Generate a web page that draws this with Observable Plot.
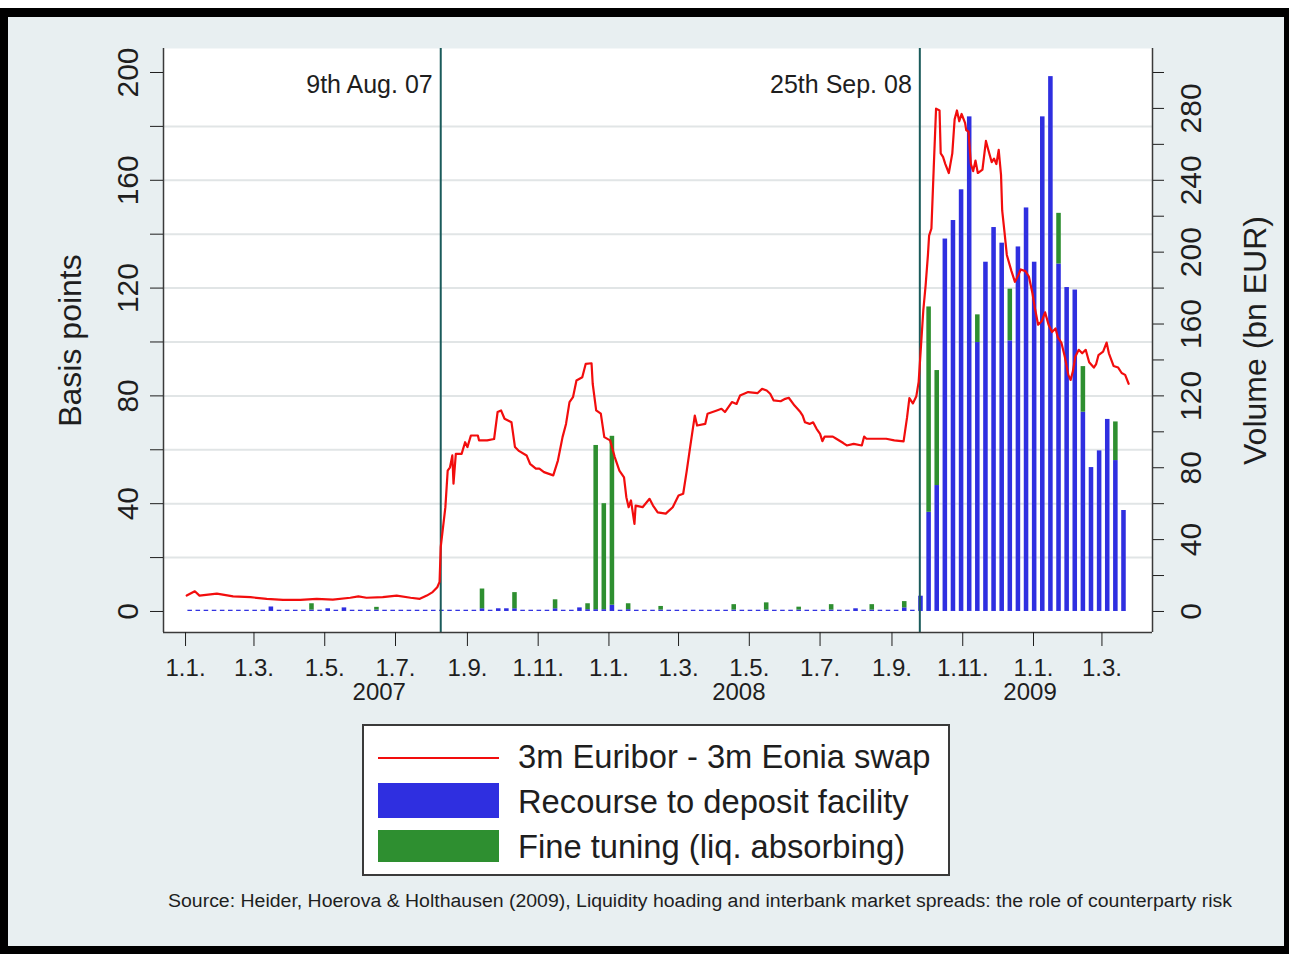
<!DOCTYPE html>
<html>
<head>
<meta charset="utf-8">
<script src="https://cdn.jsdelivr.net/npm/d3@7"></script>
<script src="https://cdn.jsdelivr.net/npm/@observablehq/plot@0.6"></script>
<style>
  body { margin: 0; background: #fff; }
  #page { position: relative; width: 1289px; height: 954px; overflow: hidden; background: #fff;
          font-family: Arial, "Liberation Sans", Helvetica, sans-serif; color: #1e1e1e; }
  #outer { position: absolute; left: 0; top: 8px; width: 1289px; height: 946px; background: #000; }
  #inner { position: absolute; left: 8px; top: 17px; width: 1276px; height: 929px; background: #e8eff1; }
  #chart { position: absolute; left: 0; top: 0; }
  #legend { position: absolute; left: 362px; top: 724px; width: 588px; height: 152px; background: #fff;
            border: 2px solid #3a3a3a; box-sizing: border-box; }
  .sw { position: absolute; left: 14px; width: 121px; }
  .lt { position: absolute; left: 154px; font-size: 32.7px; line-height: 36px; white-space: nowrap; color: #1e1e1e; }
  #source { position: absolute; left: 0; top: 880px; }
</style>
</head>
<body>
<div id="page">
  <div id="outer"></div>
  <div id="inner"></div>
  <div id="chart"></div>
  <div id="legend"></div>
  <svg id="source" width="1289" height="40"></svg>
</div>
<script>
// ---------------- data ----------------
// 3m Euribor - 3m Eonia swap spread (basis points)
const spreadDates = [
  "2007-01-02","2007-01-09","2007-01-13","2007-01-28","2007-02-11","2007-02-26","2007-03-12","2007-03-26",
  "2007-04-10","2007-04-24","2007-05-08","2007-05-23","2007-05-30","2007-06-06","2007-06-20","2007-07-02",
  "2007-07-14","2007-07-22","2007-07-28","2007-08-02","2007-08-06","2007-08-08","2007-08-09","2007-08-13",
  "2007-08-15","2007-08-17","2007-08-19","2007-08-20","2007-08-22","2007-08-27","2007-08-30","2007-09-01",
  "2007-09-04","2007-09-10","2007-09-11","2007-09-18","2007-09-24","2007-09-27","2007-09-30","2007-10-03",
  "2007-10-09","2007-10-12","2007-10-15","2007-10-22","2007-10-25","2007-10-30","2007-11-02","2007-11-06",
  "2007-11-14","2007-11-18","2007-11-22","2007-11-25","2007-11-28","2007-12-01","2007-12-04","2007-12-09",
  "2007-12-12","2007-12-17","2007-12-18","2007-12-21","2007-12-25","2007-12-28","2008-01-02","2008-01-06",
  "2008-01-10","2008-01-14","2008-01-16","2008-01-18","2008-01-20","2008-01-23","2008-01-24","2008-01-30",
  "2008-02-05","2008-02-08","2008-02-12","2008-02-19","2008-02-25","2008-03-01","2008-03-05","2008-03-08",
  "2008-03-11","2008-03-15","2008-03-17","2008-03-24","2008-03-26","2008-04-03","2008-04-07","2008-04-10",
  "2008-04-16","2008-04-20","2008-04-23","2008-04-30","2008-05-08","2008-05-12","2008-05-16","2008-05-19",
  "2008-05-22","2008-05-28","2008-06-01","2008-06-04","2008-06-09","2008-06-14","2008-06-16","2008-06-18",
  "2008-06-22","2008-06-25","2008-06-28","2008-07-01","2008-07-03","2008-07-05","2008-07-12","2008-07-15",
  "2008-07-21","2008-07-24","2008-07-30","2008-08-06","2008-08-08","2008-08-10","2008-08-27","2008-09-03",
  "2008-09-11","2008-09-14","2008-09-16","2008-09-19","2008-09-22","2008-09-24","2008-09-26","2008-09-28",
  "2008-09-30","2008-10-02","2008-10-03","2008-10-05","2008-10-07","2008-10-09","2008-10-12","2008-10-13",
  "2008-10-15","2008-10-17","2008-10-20","2008-10-23","2008-10-25","2008-10-27","2008-10-29","2008-10-31",
  "2008-11-03","2008-11-04","2008-11-06","2008-11-08","2008-11-10","2008-11-12","2008-11-14","2008-11-18",
  "2008-11-21","2008-11-23","2008-11-26","2008-11-28","2008-11-30","2008-12-02","2008-12-04","2008-12-05",
  "2008-12-07","2008-12-09","2008-12-13","2008-12-16","2008-12-19","2008-12-21","2008-12-25","2008-12-28",
  "2008-12-31","2009-01-02","2009-01-05","2009-01-08","2009-01-11","2009-01-14","2009-01-17","2009-01-20",
  "2009-01-22","2009-01-25","2009-01-28","2009-01-31","2009-02-02","2009-02-04","2009-02-06","2009-02-09",
  "2009-02-12","2009-02-15","2009-02-18","2009-02-22","2009-02-24","2009-02-26","2009-03-02","2009-03-05",
  "2009-03-07","2009-03-11","2009-03-15","2009-03-18","2009-03-21","2009-03-24"
];
const spreadValues = [
  5.9,7.5,5.9,6.6,5.6,5.3,4.7,4.3,
  4.3,4.7,4.4,5.1,5.6,5.1,5.3,5.9,
  5.1,4.7,5.9,7.2,9.0,11,24,38.7,
  52.3,53.5,57.9,47.4,58.5,58.5,62.8,61,
  65.3,65.3,63.5,63.5,64,74,74.6,71.5,
  70.2,61,59.7,57.9,54.8,53,53,51.7,
  50.5,56,64.7,69.6,77.7,79.5,85.7,86.9,
  91.9,92.1,84.5,74.6,73.4,64.7,63.5,57.3,
  52.3,49.8,42.4,38.7,41.2,32.5,39.3,38.7,
  41.8,39.3,36.8,36.3,38.7,43,43.7,52,
  61,72.7,69,69.6,73.4,74.6,75.2,74,
  77.7,77,80.1,81.4,81,82.6,82,80.8,
  78.3,78,78.9,79.3,76.4,74,72.7,70.2,
  69.6,70.2,67.8,65.9,63.2,64.9,64.9,64.1,
  62.5,61.6,62.2,61.6,64.9,64.1,64.1,63.5,
  63.1,72,79.2,77.2,79.9,85.2,98.4,111.7,
  121,132.3,139.5,142.1,164.7,186.6,185.9,170,
  168.7,166,162.7,170,182.6,185.9,181.9,184.6,
  181.3,178.6,178,166,163.4,167.3,162.7,164,
  174.6,171.3,166.7,168,166,171.3,162,148.8,
  140.8,132.3,126.3,122.3,124.9,126.9,126.3,124.3,
  118.3,113,106.4,107.7,111,106.4,103.7,105,
  101.7,99.8,94.5,87.8,85.9,89.2,94.5,97.1,
  95.8,97.1,92.5,90.5,91.8,95.1,96.4,99.8,
  95.8,91.1,90.5,88.5,87.8,84.5
];

// Weekly volumes (bn EUR), one per Friday from 5 Jan 2007 to 20 Mar 2009
const weekStart = "2007-01-05";
const weekEnd = "2009-03-21";
const depositVolume = [
  0.7,0.7,0.7,0.7,0.7,0.7,0.7,0.7,0.7,0.7,   // 0-9
  2.5,0.7,0.7,0.7,0.7,0.8,0.7,1.5,0.7,2.0,   // 10-19
  0.7,0.7,0.7,0.8,0.7,0.7,0.7,0.7,0.7,0.7,   // 20-29
  0.7,0.7,0.7,0.7,0.7,0.7,1.5,0.7,1.5,1.5,   // 30-39
  1.5,0.7,0.7,0.7,0.7,1.5,0.7,0.7,2.0,1.0,   // 40-49
  1.0,1.0,3.5,0.7,1.0,0.7,0.7,0.7,0.8,0.7,   // 50-59
  0.7,0.7,0.7,0.7,0.7,0.7,0.7,0.8,0.7,0.7,   // 60-69
  0.7,0.8,0.7,0.7,0.7,0.8,0.7,0.7,0.7,0.8,   // 70-79
  0.7,0.7,1.5,0.7,0.8,0.7,0.7,0.7,2.0,0.7,   // 80-89
  8.5,55.2,70.1,207.3,217.6,234.7,275.3,149.7,194.4,213.7,  // 90-99
  205,150.6,202.9,224.6,194.4,275.3,297.7,193.4,180.3,178.9, // 100-109
  110.9,80.1,89.4,106.9,84.0,56.2                              // 110-115
];
const fineTuningVolume = [
  0,0,0,0,0,0,0,0,0,0,
  0,0,0,0,0,3.5,0,0,0,0,
  0,0,0,1.5,0,0,0,0,0,0,
  0,0,0,0,0,0,11,0,0,0,
  9,0,0,0,0,5,0,0,0,3.3,
  91.4,59,94,0,3.3,0,0,0,2,0,
  0,0,0,0,0,0,0,3,0,0,
  0,4,0,0,0,1.6,0,0,0,3,
  0,0,0,0,3,0,0,0,3.5,0,
  0,114.3,64,0,0,0,0,15.4,0,0,
  0,28.8,0,0,0,0,0,28.2,0,0,
  25.4,0,0,0,21.5,0
];

const eventDates = ["2007-08-09", "2008-09-25"];
const eventLabels = ["9th Aug. 07", "25th Sep. 08"];

const xTickDates = ["2007-01-01","2007-03-01","2007-05-01","2007-07-01","2007-09-01","2007-11-01",
  "2008-01-01","2008-03-01","2008-05-01","2008-07-01","2008-09-01","2008-11-01","2009-01-01","2009-03-01"];
const yearLabelDates = ["2007-06-17", "2008-04-22", "2008-12-29"];
const yearLabels = ["2007", "2008", "2009"];

const leftTicks = [0,20,40,60,80,100,120,140,160,180,200];
const leftLabels = [0,40,80,120,160,200];
const gridLines = [20,40,60,80,100,120,140,160,180];
const rightTicks = [0,20,40,60,80,100,120,140,160,180,200,220,240,260,280,300];
const rightLabels = [0,40,80,120,160,200,240,280];
const volPerBp = 1.5;            // right axis: 300 bn EUR <-> 200 bp

const seriesNames = ["3m Euribor - 3m Eonia swap", "Recourse to deposit facility", "Fine tuning (liq. absorbing)"];
const sourceText = "Source: Heider, Hoerova & Holthausen (2009), Liquidity hoading and interbank market spreads: the role of counterparty risk";

// ---------------- build ----------------
const red = "#f20d0d", blue = "#2f2fe0", green = "#2e8f30", teal = "#1b5b5b", axisColor = "#3a3a3a";
const ink = "#1e1e1e";

const spread = spreadDates.map((d, i) => ({date: new Date(d), value: spreadValues[i]}));
const fridays = d3.utcFriday.range(new Date(weekStart), new Date(weekEnd));
const weeks = fridays.map((d, i) => ({
  date: d,
  x1: d3.utcHour.offset(d, -47),
  x2: d3.utcHour.offset(d, 47),
  dep: depositVolume[i],
  fine: fineTuningVolume[i]
}));
const events = eventDates.map((d, i) => ({date: new Date(d), label: eventLabels[i]}));
const years = yearLabelDates.map((d, i) => ({date: new Date(d), label: yearLabels[i]}));

const yMin = -7.8, yMax = 208.9;
const xDomain = [new Date("2006-12-13T00:00Z"), new Date("2009-04-13T14:00Z")];
const font = "Arial, 'Liberation Sans', Helvetica, sans-serif";

const chart = Plot.plot({
  width: 1289, height: 720,
  marginTop: 48, marginLeft: 163, marginRight: 137, marginBottom: 88,
  style: {background: "transparent", fontFamily: font, color: ink, overflow: "visible"},
  x: {type: "utc", domain: xDomain},
  y: {domain: [yMin, yMax]},
  marks: [
    Plot.frame({fill: "white", stroke: "none"}),
    Plot.gridY(gridLines, {stroke: "#e1e5e6", strokeOpacity: 1, strokeWidth: 2}),
    Plot.rect(weeks, {x1: "x1", x2: "x2", y1: 0, y2: d => d.dep / volPerBp, fill: blue}),
    Plot.rect(weeks.filter(d => d.fine > 0), {x1: "x1", x2: "x2",
      y1: d => d.dep / volPerBp, y2: d => (d.dep + d.fine) / volPerBp, fill: green}),
    Plot.ruleX(events, {x: "date", stroke: teal, strokeWidth: 2}),
    Plot.text(events, {x: "date", text: "label", frameAnchor: "top", dy: 36, dx: -8,
      textAnchor: "end", lineAnchor: "middle", fontSize: 25, fill: ink}),
    Plot.line(spread, {x: "date", y: "value", stroke: red, strokeWidth: 2.2}),
    Plot.ruleY([yMin], {stroke: axisColor, strokeWidth: 1.5}),
    Plot.ruleX([xDomain[0], xDomain[1]], {stroke: axisColor, strokeWidth: 1.5}),
    Plot.axisX({ticks: xTickDates.map(d => new Date(d)), tickSize: 14, tickPadding: 12,
      tickFormat: d => `${d.getUTCDate()}.${d.getUTCMonth() + 1}.`, fontSize: 24, label: null}),
    Plot.text(years, {x: "date", text: "label", frameAnchor: "bottom", dy: 60,
      textAnchor: "middle", lineAnchor: "middle", fontSize: 24, fill: ink}),
    Plot.axisY({anchor: "left", ticks: leftTicks, tickSize: 13, tickFormat: () => "", label: null}),
    Plot.text(leftLabels, {y: d => d, text: d => String(d), frameAnchor: "left", dx: -35,
      rotate: -90, textAnchor: "middle", lineAnchor: "middle", fontSize: 30, fill: ink}),
    Plot.axisY({anchor: "right", ticks: rightTicks.map(v => v / volPerBp), tickSize: 11,
      tickFormat: () => "", label: null}),
    Plot.text(rightLabels, {y: v => v / volPerBp, text: v => String(v), frameAnchor: "right", dx: 39,
      rotate: -90, textAnchor: "middle", lineAnchor: "middle", fontSize: 30, fill: ink}),
    Plot.text(["Basis points"], {text: d => d, frameAnchor: "left", dx: -93, rotate: -90,
      textAnchor: "middle", lineAnchor: "middle", fontSize: 32, fill: ink}),
    Plot.text(["Volume (bn EUR)"], {text: d => d, frameAnchor: "right", dx: 103, rotate: -90,
      textAnchor: "middle", lineAnchor: "middle", fontSize: 32, fill: ink})
  ]
});
document.getElementById("chart").appendChild(chart);

// legend
const legend = document.getElementById("legend");
const swatches = [
  {type: "line", color: red, top: 31},
  {type: "rect", color: blue, top: 57, h: 35},
  {type: "rect", color: green, top: 104, h: 32}
];
const textTops = [13, 58, 103];
swatches.forEach((s, i) => {
  const sw = document.createElement("div");
  sw.className = "sw";
  sw.style.top = s.top + "px";
  sw.style.height = (s.type === "line" ? 2 : s.h) + "px";
  sw.style.background = s.color;
  legend.appendChild(sw);
  const t = document.createElement("div");
  t.className = "lt";
  t.style.top = textTops[i] + "px";
  t.textContent = seriesNames[i];
  legend.appendChild(t);
});

// source caption
const src = d3.select("#source");
src.append("text")
  .attr("x", 168).attr("y", 27)
  .attr("textLength", 1064).attr("lengthAdjust", "spacingAndGlyphs")
  .attr("font-family", font).attr("font-size", 18).attr("fill", ink)
  .text(sourceText);
</script>
</body>
</html>
